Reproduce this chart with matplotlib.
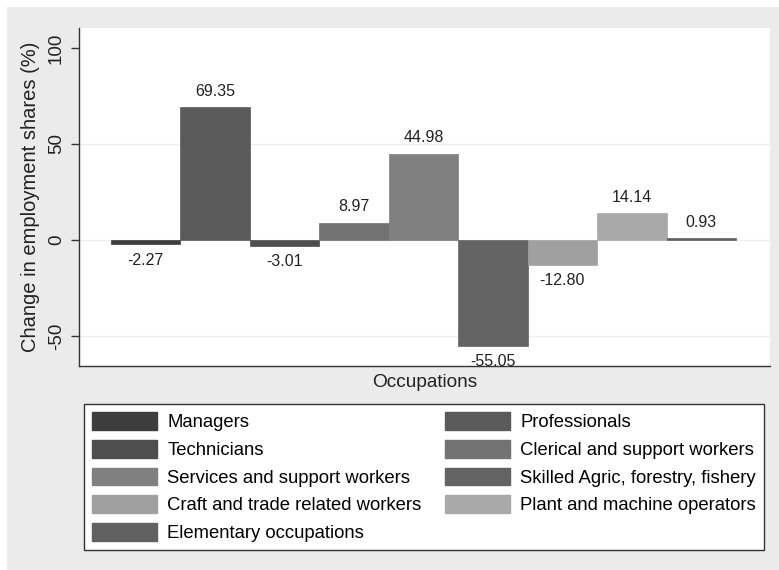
import matplotlib
matplotlib.use("Agg")
import matplotlib.pyplot as plt
from matplotlib.patches import Rectangle, Patch

plt.rcParams['font.family'] = ['Liberation Sans', 'DejaVu Sans']

categories = ["Managers", "Professionals", "Technicians", "Clerical and support workers",
              "Services and support workers", "Skilled Agric, forestry, fishery",
              "Craft and trade related workers", "Plant and machine operators",
              "Elementary occupations"]
values = [-2.27, 69.35, -3.01, 8.97, 44.98, -55.05, -12.80, 14.14, 0.93]
colors = ["#3d3d3d", "#5a5a5a", "#4e4e4e", "#727272", "#808080", "#636363",
          "#a0a0a0", "#a9a9a9", "#606060"]
yticks = [-50, 0, 50, 100]
grid_levels = [-50, 0, 50]

W, H = 779, 570
fig = plt.figure(figsize=(W / 100, H / 100), dpi=100)
fig.patch.set_facecolor("white")
fig.patches.append(Rectangle((7 / W, 0), 1 - 7 / W, 1 - 7 / H, transform=fig.transFigure,
                             facecolor="#ebebeb", edgecolor="none", zorder=-10))

ax = fig.add_axes([79 / W, 1 - 366 / H, (770 - 79) / W, (366 - 28) / H])
ax.set_facecolor("white")
x = list(range(len(values)))
ax.bar(x, values, width=1.0, color=colors, edgecolor=colors, linewidth=0.5, zorder=3)
for xi, v in zip(x, values):
    off = 6 if v >= 0 else -6
    ax.annotate(f"{v:.2f}", (xi, v), xytext=(0, off), textcoords="offset points",
                ha="center", va="bottom" if v >= 0 else "top", fontsize=11.5,
                color="#222222", annotation_clip=False, clip_on=True, zorder=4)

for g in grid_levels:
    ax.axhline(g, color="#eeeeee", linewidth=1, zorder=0)

ax.set_xlim(-0.96, 8.99)
ax.set_ylim(-65.6, 110.4)
ax.set_yticks(yticks)
ax.set_yticklabels([str(t) for t in yticks], rotation=90, va="center", fontsize=13.5, color="#222222")
ax.set_xticks([])
for s in ["top", "right"]:
    ax.spines[s].set_visible(False)
for s in ["left", "bottom"]:
    ax.spines[s].set_color("#333333")
    ax.spines[s].set_linewidth(1.0)
ax.tick_params(axis="y", length=6, width=1, color="#333333", pad=4)
ax.set_ylabel("Change in employment shares (%)", fontsize=14.5, color="#222222", labelpad=6)
ax.set_xlabel("Occupations", fontsize=13.7, color="#222222", labelpad=6)

order = [0, 2, 4, 6, 8, 1, 3, 5, 7]
handles = [Patch(facecolor=colors[i], edgecolor=colors[i]) for i in order]
labels = [categories[i] for i in order]
leg = fig.legend(handles, labels, loc="upper left", ncol=2,
                 bbox_to_anchor=(84 / W, 1 - 404 / H), bbox_transform=fig.transFigure,
                 fontsize=13.3, frameon=True, fancybox=False, handlelength=3.5,
                 handleheight=1.1, handletextpad=0.55, columnspacing=1.3,
                 labelspacing=0.46, borderpad=0.45, borderaxespad=0, framealpha=1)
leg.get_frame().set_edgecolor("#333333")
leg.get_frame().set_facecolor("white")
leg.get_frame().set_linewidth(1.0)

fig.savefig("out.png", dpi=100)
